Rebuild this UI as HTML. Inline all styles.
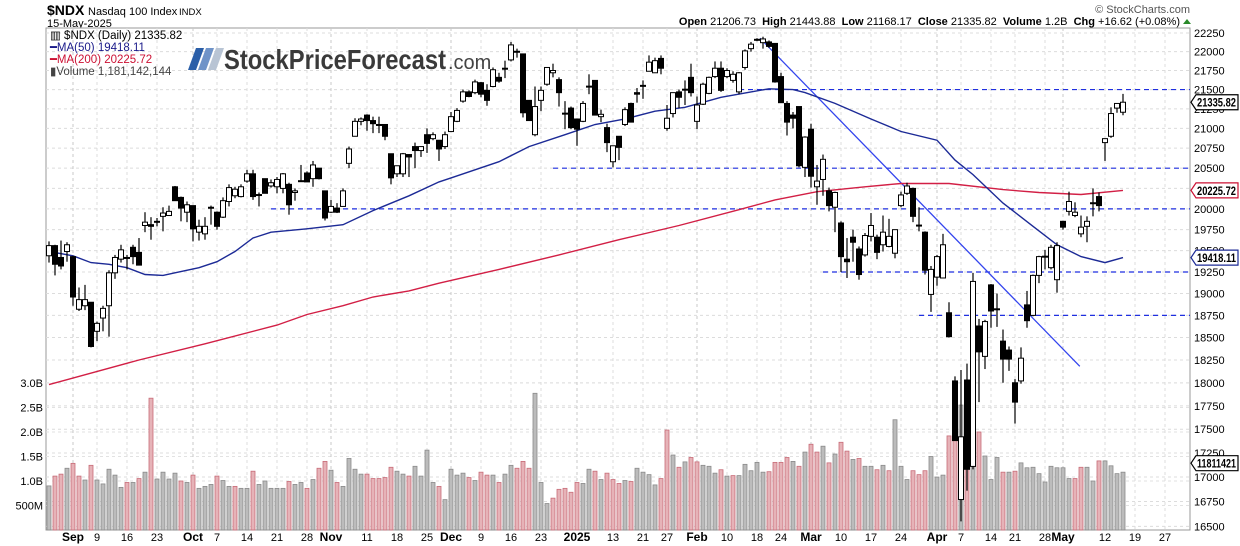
<!DOCTYPE html>
<html><head><meta charset="utf-8"><style>
html,body{margin:0;padding:0;background:#fff;}
svg{display:block;font-family:"Liberation Sans",Arial,sans-serif;}
</style></head><body>
<svg id="chart" width="1240" height="546" viewBox="0 0 1240 546" xmlns="http://www.w3.org/2000/svg">
<g>
<text x="47" y="15" font-size="14" font-weight="bold" fill="#000">$NDX</text>
<text x="88" y="15" font-size="11" fill="#000">Nasdaq 100 Index</text>
<text x="179" y="15" font-size="9.5" fill="#000">INDX</text>
<text x="47" y="27" font-size="11" fill="#000">15-May-2025</text>
<text x="1190" y="13" font-size="11" fill="#555" text-anchor="end">© StockCharts.com</text>
<text x="1180" y="25" font-size="11" fill="#000" text-anchor="end" xml:space="preserve"><tspan font-weight="bold">Open</tspan> 21206.73  <tspan font-weight="bold">High</tspan> 21443.88  <tspan font-weight="bold">Low</tspan> 21168.17  <tspan font-weight="bold">Close</tspan> 21335.82  <tspan font-weight="bold">Volume</tspan> 1.2B  <tspan font-weight="bold">Chg</tspan> +16.62 (+0.08%)</text>
<path d="M1183 24 L1187 19 L1191 24 Z" fill="#2a8a2a"/>
</g>
<rect x="46" y="28" width="1144" height="502" fill="#fff" stroke="#999" stroke-width="1"/>
<g id="grid"></g>
<g id="vol"></g>
<g id="levels"></g>
<g id="mas"></g>
<g id="candles"></g>
<g id="axes"></g>
<g font-size="11.5">
<text x="50" y="39" fill="#000">▥ $NDX (Daily) 21335.82</text>
<text x="50" y="51" fill="#1a1a8a">━MA(50) 19418.11</text>
<text x="50" y="63" fill="#cc1133">━MA(200) 20225.72</text>
<text x="50" y="75" fill="#444">▮Volume 1,181,142,144</text>
</g>
<g>
<polygon points="196,48 204,48 196,70 188,70" fill="#2a5ea8"/>
<polygon points="206,48 214,48 206,70 198,70" fill="#6f93c8"/>
<polygon points="216,48 224,48 216,70 208,70" fill="#b8c4d4"/>
<text x="224" y="69" font-size="28" font-weight="bold" fill="#3a3a3a" textLength="222" lengthAdjust="spacingAndGlyphs">StockPriceForecast</text>
<text x="448" y="69" font-size="20" fill="#444">.com</text>
</g>
</svg>
<script>
const O=[19440,19560,19420,19490,19430,18820,18860,18900,18570,18720,18860,19240,19400,19410,19540,19480,19800,19810,19840,19910,19920,20270,20140,19960,20040,19720,19700,20020,19960,19900,20090,20160,20150,20340,20430,20170,20370,20280,20270,20250,20300,20200,20340,20440,20370,20500,20220,19960,20010,20030,20560,20900,21090,21170,21100,21050,21050,20680,20430,20430,20670,20770,20720,20920,20870,20850,20770,20960,21090,21350,21470,21460,21590,21490,21540,21660,21780,21890,22000,21970,21360,20920,21360,21570,21720,21630,21190,21260,21120,21090,21540,21620,21150,21010,20580,20900,21050,21320,21460,21550,21740,21720,21910,21000,21190,21470,21500,21660,21090,21310,21450,21670,21780,21670,21620,21470,21790,22040,22160,22120,22130,22110,21670,21320,21170,21280,20510,20990,20270,20360,20220,20020,19830,19400,19660,19520,19450,19670,19660,19570,19550,19470,20040,20190,20250,19800,19720,18990,19190,19180,18780,18020,16770,18030,17110,18630,18290,19100,18820,18460,18360,18000,18020,18870,18750,19210,19430,19300,19160,19850,19970,19920,19700,19790,20070,20150,20820,20900,21260,21206.73];
const H=[19610,19570,19620,19600,19440,19070,19100,18900,18680,18860,19270,19450,19570,19450,19570,19650,19960,19900,19890,20020,20040,20280,20150,20090,20040,19870,19900,20040,19970,20140,20300,20270,20300,20480,20480,20200,20370,20360,20390,20440,20320,20250,20540,20460,20590,20500,20220,20110,20070,20250,20770,21130,21140,21180,21150,21150,21050,20680,20530,20690,20670,20820,20770,21000,20950,20850,20960,21210,21260,21500,21490,21630,21600,21570,21790,21720,21880,22130,22040,21970,21360,21540,21540,21790,21840,21660,21350,21280,21120,21350,21700,21620,21240,21060,20770,20900,21270,21330,21520,21620,21950,21920,21950,21300,21460,21500,21620,21840,21410,21590,21670,21870,21870,21780,21740,21730,22030,22130,22180,22200,22150,22110,21720,21350,21210,21280,20900,21060,20540,20670,20260,20210,19850,19650,19750,19550,19710,19950,19690,19920,19880,19740,20210,20320,20260,20020,19730,19320,19450,19700,18900,18070,18140,18210,19240,18710,18700,19110,19000,18590,18400,18040,18390,19030,19220,19440,19510,19570,19600,19850,20210,20080,19920,19910,20250,20200,20870,21270,21320,21443.88];
const L=[19360,19210,19280,19370,18860,18800,18810,18390,18460,18570,18510,19170,19360,19280,19340,19330,19720,19630,19790,19730,19920,20100,19850,19840,19610,19620,19630,19810,19750,19890,20030,20130,20140,20320,20110,20030,20190,20260,20190,20190,19930,20100,20330,20330,20270,20360,19860,19950,19950,20030,20500,20900,21040,20970,20940,20940,20850,20300,20390,20390,20390,20500,20640,20690,20850,20590,20740,20960,21080,21330,21400,21440,21400,21290,21530,21590,21650,21870,21920,21140,21100,20900,21220,21550,21660,21280,20990,20990,20780,21080,21440,21170,21080,20700,20510,20600,21030,21080,21330,21380,21740,21720,21700,20970,21140,21260,21300,21410,20990,21300,21440,21650,21470,21650,21590,21440,21760,22000,22140,22040,22050,21590,21330,20910,21000,20510,20390,20260,20050,20160,19970,19720,19250,19180,19370,19160,19430,19610,19400,19490,19540,19410,20020,20170,19840,19730,19220,18790,19090,19180,18500,17380,16550,16860,17080,17790,18150,18610,18620,18000,18130,17560,17990,18610,18740,19120,19280,19280,19010,19750,19920,19900,19660,19600,19910,19970,20590,20880,21200,21168.17];
const C=[19560,19340,19320,19570,18960,18930,18930,18400,18660,18830,19240,19420,19510,19420,19430,19330,19840,19790,19850,19950,19970,20100,20010,20050,19760,19790,19790,20020,19790,20100,20260,20240,20270,20430,20150,20175,20190,20320,20360,20430,20050,20220,20345,20330,20540,20370,19890,20030,19960,20220,20740,21090,21120,21100,21060,21040,20900,20380,20530,20680,20640,20720,20770,20810,20920,20740,20920,21150,21230,21470,21410,21600,21440,21360,21760,21610,21775,22090,22005,21200,21100,21280,21490,21790,21750,21460,21195,21010,20990,21320,21545,21170,21180,20820,20780,20760,21240,21080,21440,21555,21860,21880,21780,21130,21460,21400,21505,21460,21300,21570,21660,21780,21490,21750,21700,21720,22010,22100,22165,22170,22070,21600,21330,21080,21130,20530,20890,20400,20340,20610,20040,20200,19430,19370,19600,19220,19680,19800,19480,19720,19670,19750,20170,20280,19910,19805,19270,19280,19430,19570,18510,17380,17420,17080,19140,18340,18680,18800,18825,18260,18260,17790,18270,18690,19210,19430,19435,19540,19560,19780,20090,19960,19780,19850,20075,20040,20870,21190,21320,21335.82];
const VOL=[0.90,1.10,1.14,1.26,1.36,1.10,1.02,1.32,1.02,0.94,1.24,1.12,0.87,0.97,0.97,1.05,1.18,2.69,1.04,1.18,1.04,1.16,1.00,0.97,1.12,0.85,0.89,0.93,1.10,1.01,0.89,0.89,0.85,0.85,1.20,0.93,1.00,0.85,0.85,0.85,0.99,0.93,0.97,0.85,1.03,1.26,1.40,1.22,0.97,0.89,1.46,1.24,1.14,1.14,1.05,1.05,1.07,1.28,1.20,1.14,1.10,1.30,1.10,1.63,0.97,0.89,0.62,1.24,1.12,1.16,1.07,1.01,1.18,1.12,1.12,0.97,1.14,1.32,1.26,1.40,1.26,2.79,0.97,0.54,0.65,0.83,0.85,0.77,0.97,0.95,1.24,1.20,1.03,1.16,1.03,0.95,1.01,0.99,1.26,1.18,1.13,0.92,1.05,2.04,1.53,1.28,1.39,1.48,1.39,1.32,1.30,1.16,1.23,1.10,1.11,1.11,1.34,1.21,1.38,1.18,1.19,1.38,1.38,1.48,1.40,1.30,1.59,1.75,1.59,1.71,1.37,1.55,1.79,1.61,1.44,1.46,1.30,1.30,1.23,1.32,1.21,2.25,1.30,1.03,1.21,1.13,1.21,1.50,1.08,1.12,1.92,1.90,2.55,2.30,2.88,2.00,1.51,1.03,1.48,1.18,1.18,1.20,1.37,1.27,1.28,1.15,0.98,1.30,1.27,1.27,1.05,1.05,1.28,1.28,1.00,1.41,1.41,1.31,1.15,1.18];
const MA50_IDX=[0,4,7,10,13,16,19,21,25,28,31,34,37,43,49,54,60,65,67,75,80,86,91,96,101,106,112,117,120,124,126,131,137,142,148,151,154,159,164,168,172,176,179];
const MA50_VAL=[19490,19440,19360,19340,19300,19220,19210,19240,19300,19370,19490,19650,19720,19760,19810,19980,20160,20330,20380,20580,20770,20920,21050,21120,21220,21270,21400,21470,21510,21500,21460,21320,21120,20960,20850,20600,20420,20070,19790,19570,19430,19360,19418.11];
const MA200_IDX=[0,15,26,38,43,49,54,60,65,75,85,95,105,115,121,128,136,142,150,159,165,172,179];
const MA200_VAL=[17980,18250,18430,18640,18760,18860,18960,19030,19120,19280,19450,19630,19800,19990,20110,20210,20270,20310,20310,20235,20200,20175,20225.72];
const LEVEL_PRICES=[21500,20500,20000,19250,18750];
const LEVEL_START=[115,84,37,129,145];
const TREND_IDX=[118.5,171.8];
const TREND_VAL=[22180,18180];
const PRICE_TICKS=[16500,16750,17000,17250,17500,17750,18000,18250,18500,18750,19000,19250,19500,19750,20000,20250,20500,20750,21000,21250,21500,21750,22000,22250];
const VOL_TICKS=[0.5,1.0,1.5,2.0,2.5,3.0];
const VOL_TICK_LABELS=["500M","1.0B","1.5B","2.0B","2.5B","3.0B"];
const DATE_IDX=[4,8,13,18,24,28,33,38,43,47,53,58,63,67,72,77,82,88,94,99,103,108,113,118,122,127,132,137,142,148,152,157,161,166,169,176,181,186];
const DATE_LABELS=["Sep","9","16","23","Oct","7","14","21","28","Nov","11","18","25","Dec","9","16","23","2025","13","21","27","Feb","10","18","24","Mar","10","17","24","Apr","7","14","21","28","May","12","19","27"];
const DATE_BOLD=["Sep","Oct","Nov","Dec","2025","Feb","Mar","Apr","May"];

const NS="http://www.w3.org/2000/svg";
const X0=49,STEP=6,PLEFT=46,PRIGHT=1190,PTOP=28,PBOT=530;
function xs(i){return X0+STEP*i;}
function ys(p){return 33+1650*Math.log(22250/p);}
function yv(v){return 530-49*v;}
function mk(parent,tag,attrs){const e=document.createElementNS(NS,tag);for(const k in attrs)e.setAttribute(k,attrs[k]);parent.appendChild(e);return e;}

const grid=document.getElementById('grid');
PRICE_TICKS.forEach(p=>{
  const l=mk(grid,'line',{x1:PLEFT,x2:PRIGHT,y1:ys(p),y2:ys(p),stroke:'#dcdcdc','stroke-dasharray':'3,3','stroke-width':1});
  
  
});
VOL_TICKS.forEach(v=>{
  const l=mk(grid,'line',{x1:PLEFT,x2:PRIGHT,y1:yv(v),y2:yv(v),stroke:'#e2e2e2','stroke-dasharray':'3,3','stroke-width':1});
  
  
});
DATE_IDX.forEach((d,k)=>{
  const x=xs(d);
  const l=mk(grid,'line',{x1:x,x2:x,y1:PTOP,y2:PBOT,stroke:DATE_BOLD.includes(DATE_LABELS[k])?'#c8c8c8':'#dcdcdc','stroke-dasharray':'3,3','stroke-width':1});
  
  
});

const vol=document.getElementById('vol');
VOL.forEach((v,i)=>{
  const down=i>0&&C[i]<C[i-1];
  const r=mk(vol,'rect',{x:xs(i)-2,y:yv(v),width:4,height:PBOT-yv(v),fill:down?'#e6b3b8':'#bcbcbc',stroke:down?'#c86c78':'#8a8a8a','stroke-width':0.8});
  
  
});

const lv=document.getElementById('levels');
LEVEL_PRICES.forEach((p,k)=>{
  const l=mk(lv,'line',{x1:xs(LEVEL_START[k]),x2:PRIGHT,y1:ys(p),y2:ys(p),stroke:'#1f2fe0','stroke-dasharray':'5,4','stroke-width':1.2});
  
  
});
const tl=mk(lv,'line',{x1:xs(TREND_IDX[0]),y1:ys(TREND_VAL[0]),x2:xs(TREND_IDX[1]),y2:ys(TREND_VAL[1]),stroke:'#3344ee','stroke-width':1.3});



const mas=document.getElementById('mas');
function poly(idx,val){return idx.map((d,k)=>xs(d).toFixed(1)+','+ys(val[k]).toFixed(1)).join(' ');}
const m200=mk(mas,'polyline',{points:poly(MA200_IDX,MA200_VAL),fill:'none',stroke:'#d21f45','stroke-width':1.4});


const m50=mk(mas,'polyline',{points:poly(MA50_IDX,MA50_VAL),fill:'none',stroke:'#1c2a96','stroke-width':1.4});



const cg=document.getElementById('candles');
C.forEach((c,i)=>{
  const x=xs(i),o=O[i];
  const w=mk(cg,'line',{x1:x,x2:x,y1:ys(H[i]),y2:ys(L[i]),stroke:'#000','stroke-width':1.2});
  
  
  const top=ys(Math.max(o,c)),bot=ys(Math.min(o,c));
  const b=mk(cg,'rect',{x:x-2.5,y:top,width:5,height:Math.max(1,bot-top),fill:c>=o?'#fff':'#000',stroke:'#000','stroke-width':1});
  
  
});

const ax=document.getElementById('axes');
PRICE_TICKS.forEach(p=>{
  const t=mk(ax,'text',{x:1194,y:ys(p)+4,'font-size':11,fill:'#000'});
  t.textContent=p;
  
  
});
VOL_TICKS.forEach((v,k)=>{
  const t=mk(ax,'text',{x:43,y:yv(v)+4,'font-size':11,fill:'#000','text-anchor':'end'});
  t.textContent=VOL_TICK_LABELS[k];
  
  
});
DATE_IDX.forEach((d,k)=>{
  const lab=DATE_LABELS[k],b=DATE_BOLD.includes(lab);
  const t=mk(ax,'text',{x:xs(d),y:541,'font-size':b?12:11,'font-weight':b?'bold':'normal',fill:'#000','text-anchor':'middle'});
  t.textContent=lab;
  
  
});
function tag(y,txt,col,name){
  const g=mk(ax,'g',{});
  
  
  mk(g,'path',{d:`M1191 ${y} L1196 ${y-7.5} L1238 ${y-7.5} L1238 ${y+7.5} L1196 ${y+7.5} Z`,fill:'#fff',stroke:col,'stroke-width':1.2});
  const t=mk(g,'text',{x:1197,y:y+4.5,'font-size':11.5,'font-weight':'bold',fill:'#000',textLength:39,lengthAdjust:'spacingAndGlyphs'});
  t.textContent=txt;
}
tag(ys(C[C.length-1]),'21335.82','#000','last-price-tag');
tag(ys(MA200_VAL[MA200_VAL.length-1]),'20225.72','#cc1133','ma200-tag');
tag(ys(MA50_VAL[MA50_VAL.length-1]),'19418.11','#1c2a96','ma50-tag');
tag(yv(VOL[VOL.length-1])-9,'11811421','#000','volume-tag');
</script>
</body></html>
